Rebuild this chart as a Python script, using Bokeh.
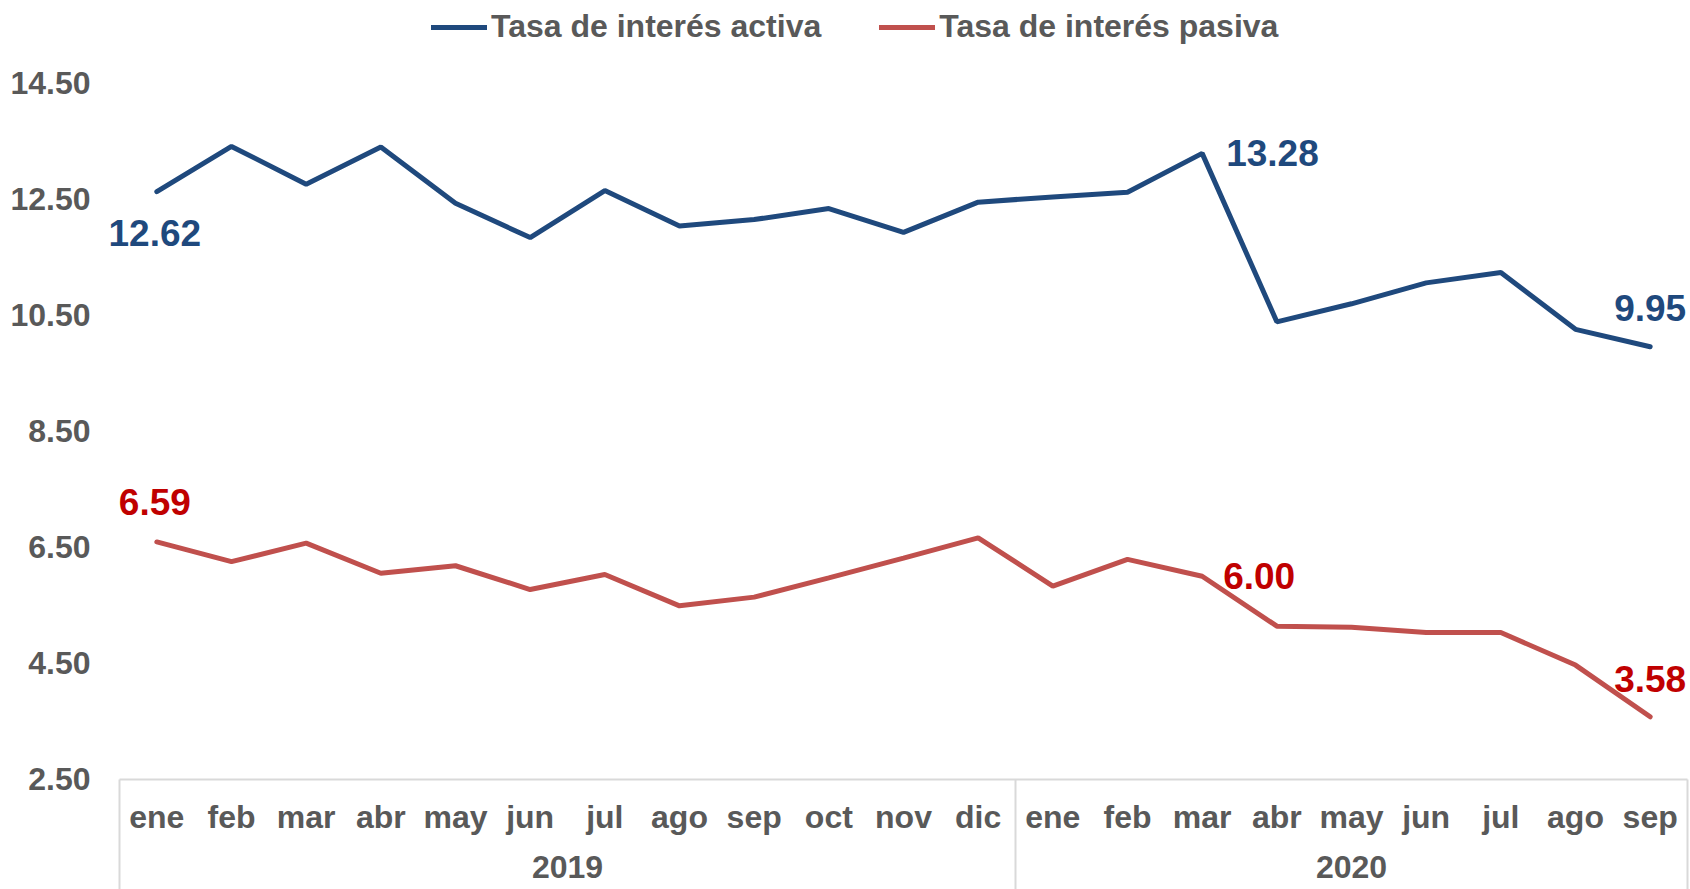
from bokeh.plotting import figure
from bokeh.models import (Range1d, FixedTicker, Legend, LegendItem, LinearAxis,
                          NumeralTickFormatter, Label)
from bokeh.embed import file_html
from bokeh.resources import INLINE

years = ["2019"] * 12 + ["2020"] * 9
months = ["ene", "feb", "mar", "abr", "may", "jun", "jul", "ago", "sep", "oct", "nov", "dic",
          "ene", "feb", "mar", "abr", "may", "jun", "jul", "ago", "sep"]
activa = [12.62, 13.40, 12.75, 13.39, 12.42, 11.83, 12.64, 12.03, 12.14, 12.33, 11.92, 12.44,
          12.53, 12.61, 13.28, 10.38, 10.69, 11.05, 11.23, 10.25, 9.95]
pasiva = [6.59, 6.25, 6.57, 6.05, 6.18, 5.77, 6.03, 5.49, 5.64, 5.97, 6.31, 6.66,
          5.83, 6.29, 6.00, 5.14, 5.12, 5.03, 5.03, 4.47, 3.58]
y_ticks = [2.5, 4.5, 6.5, 8.5, 10.5, 12.5, 14.5]
series_names = ["Tasa de interés activa", "Tasa de interés pasiva"]

BLUE = "#1F497D"
RED = "#C0504D"
RED_LABEL = "#C00000"
GREY = "#595959"
SEP = "#D9D9D9"
FONT = "Liberation Sans"

n = len(months)
idx = list(range(n))
Y_MIN = y_ticks[0]
Y_LO, Y_HI = 0.606, 15.912
X_LO, X_HI = -2.0937, n - 0.5 + 0.0402

# year groups: boundaries and centres
bounds = [-0.5]
centres = {}
start = 0
for i in range(1, n + 1):
    if i == n or years[i] != years[i - 1]:
        bounds.append(i - 0.5)
        centres[(start + i - 1) / 2] = years[start]
        start = i

p = figure(
    width=1690, height=889,
    x_range=Range1d(X_LO, X_HI), y_range=Range1d(Y_LO, Y_HI),
    output_backend="svg", toolbar_location=None,
    min_border_left=0, min_border_right=0, min_border_top=0, min_border_bottom=0,
)
p.outline_line_color = None
p.grid.grid_line_color = None


def style_labels(ax):
    ax.major_label_text_font = FONT
    ax.major_label_text_font_size = "32px"
    ax.major_label_text_font_style = "bold"
    ax.major_label_text_color = GREY
    ax.major_tick_line_color = None
    ax.minor_tick_line_color = None
    ax.major_tick_out = 0
    ax.major_tick_in = 0
    ax.axis_line_color = None


# y axis pinned at the left edge of the first month
ya = p.yaxis[0]
ya.fixed_location = bounds[0]
ya.ticker = FixedTicker(ticks=y_ticks)
ya.formatter = NumeralTickFormatter(format="0.00")
ya.major_label_standoff = 29
style_labels(ya)

# month axis pinned at the bottom value
xa = p.xaxis[0]
xa.fixed_location = Y_MIN
xa.ticker = FixedTicker(ticks=idx, minor_ticks=[])
xa.major_label_overrides = {i: m for i, m in zip(idx, months)}
xa.major_label_standoff = 20
style_labels(xa)

# year axis
ya2 = LinearAxis(ticker=FixedTicker(ticks=list(centres.keys()), minor_ticks=[]),
                 major_label_overrides=centres, fixed_location=Y_MIN,
                 major_label_standoff=77)
style_labels(ya2)
p.add_layout(ya2, "below")

# baseline and group separators (left edge, between years, right edge)
p.segment(x0=[bounds[0]], y0=[Y_MIN], x1=[bounds[-1]], y1=[Y_MIN], line_color=SEP, line_width=2)
p.segment(x0=bounds, y0=[Y_MIN] * len(bounds), x1=bounds, y1=[Y_LO] * len(bounds),
          line_color=SEP, line_width=2)

r1 = p.line(idx, activa, line_color=BLUE, line_width=5, line_cap="round")
r2 = p.line(idx, pasiva, line_color=RED, line_width=5, line_cap="round")

legend = Legend(
    items=[LegendItem(label=series_names[0], renderers=[r1]),
           LegendItem(label=series_names[1], renderers=[r2])],
    location=(431, 844), orientation="horizontal",
    glyph_width=56, glyph_height=32, label_height=32, label_standoff=4, spacing=58,
    padding=2, margin=0, border_line_color=None, background_fill_alpha=0,
    label_text_font=FONT, label_text_font_size="32px", label_text_font_style="bold",
    label_text_color=GREY,
)
p.add_layout(legend)


def annotate(i, values, color, xo, yo, align):
    p.add_layout(Label(x=idx[i], y=values[i], text=f"{values[i]:.2f}", x_offset=xo, y_offset=yo,
                       text_align=align, text_baseline="middle", text_color=color,
                       text_font=FONT, text_font_size="37px", text_font_style="bold"))


annotate(0, activa, BLUE, -2, -41, "center")
annotate(14, activa, BLUE, 24, 0, "left")
annotate(20, activa, BLUE, 0, 39, "center")
annotate(0, pasiva, RED_LABEL, -2, 40, "center")
annotate(14, pasiva, RED_LABEL, 21, 0, "left")
annotate(20, pasiva, RED_LABEL, 0, 38, "center")

open("out.html", "w").write(file_html(p, INLINE))
